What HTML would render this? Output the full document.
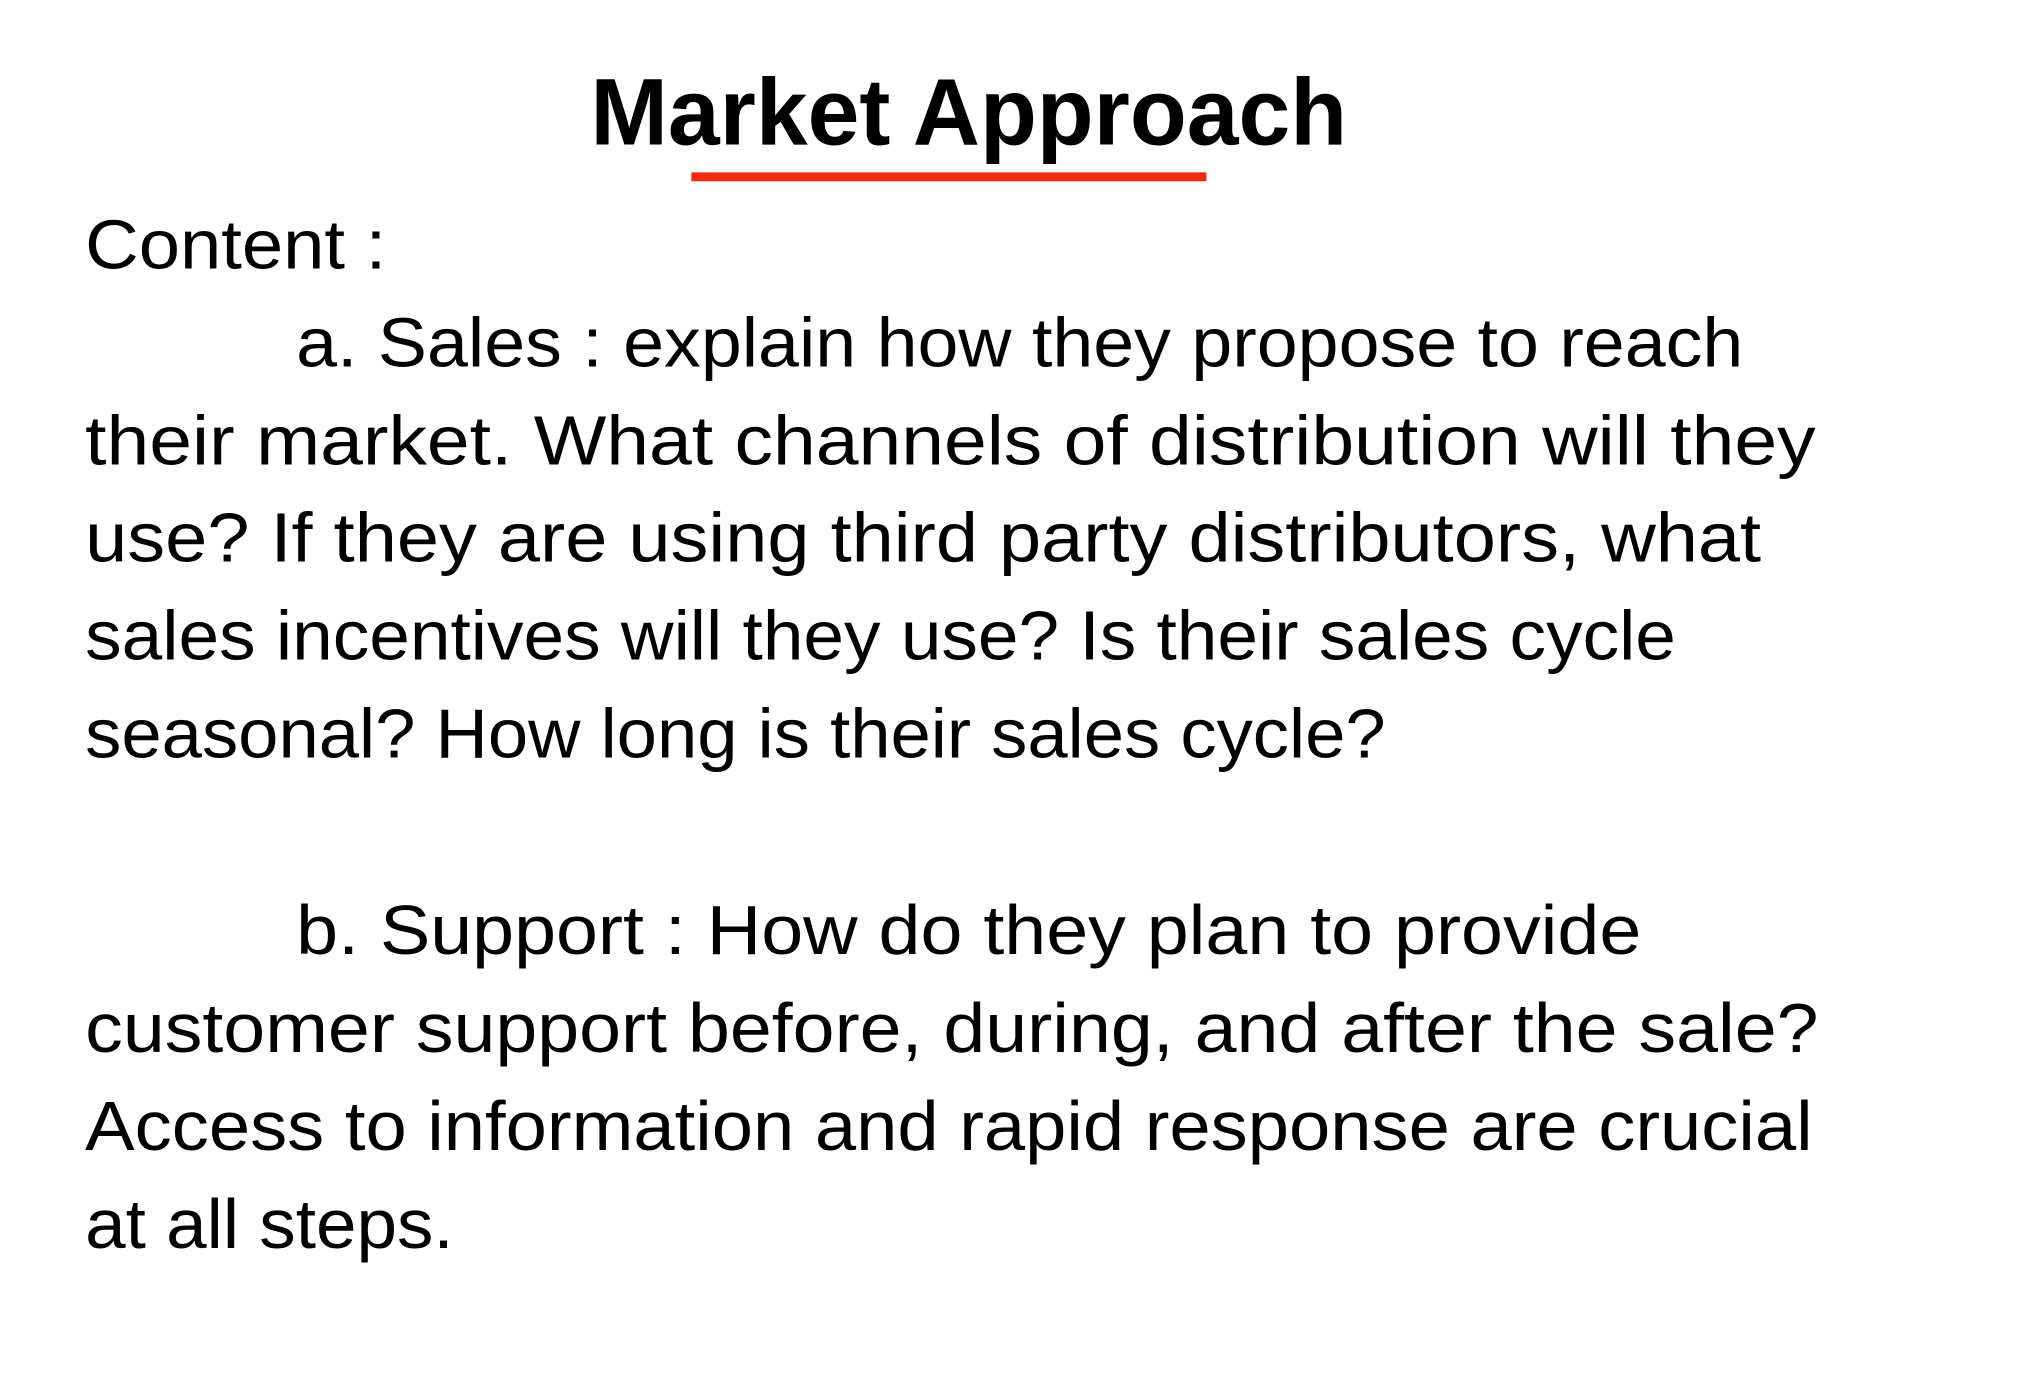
<!DOCTYPE html>
<html><head><meta charset="utf-8"><style>
html,body{margin:0;padding:0;background:#fff;}
svg{display:block;}
text{font-family:"Liberation Sans",sans-serif;fill:#000;}
</style></head><body>
<svg width="2020" height="1376" viewBox="0 0 2020 1376">
<rect width="2020" height="1376" fill="#fff"/>
<g transform="scale(0.9905)">
<text x="596" y="146" font-size="96" font-weight="bold" textLength="764" lengthAdjust="spacingAndGlyphs">Market Approach</text>
<rect x="698" y="174" width="520" height="9" fill="#f0290f"/>
<g font-size="70">
<text x="86" y="271" textLength="304" lengthAdjust="spacingAndGlyphs">Content :</text>
<text x="299" y="370" textLength="1461" lengthAdjust="spacingAndGlyphs">a. Sales : explain how they propose to reach</text>
<text x="86" y="469" textLength="1747" lengthAdjust="spacingAndGlyphs">their market. What channels of distribution will they</text>
<text x="86" y="567" textLength="1692" lengthAdjust="spacingAndGlyphs">use? If they are using third party distributors, what</text>
<text x="86" y="666" textLength="1606" lengthAdjust="spacingAndGlyphs">sales incentives will they use? Is their sales cycle</text>
<text x="86" y="765" textLength="1313" lengthAdjust="spacingAndGlyphs">seasonal? How long is their sales cycle?</text>
<text x="299" y="963" textLength="1358" lengthAdjust="spacingAndGlyphs">b. Support : How do they plan to provide</text>
<text x="86" y="1062" textLength="1750" lengthAdjust="spacingAndGlyphs">customer support before, during, and after the sale?</text>
<text x="86" y="1161" textLength="1744" lengthAdjust="spacingAndGlyphs">Access to information and rapid response are crucial</text>
<text x="86" y="1260" textLength="372" lengthAdjust="spacingAndGlyphs">at all steps.</text>
</g>
</g>
</svg>
</body></html>
